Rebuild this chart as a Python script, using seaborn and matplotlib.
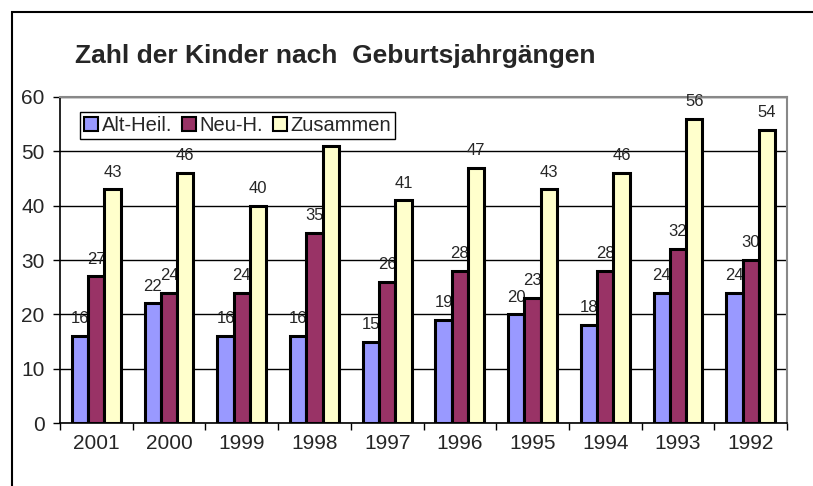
import matplotlib
matplotlib.use("Agg")
import matplotlib.pyplot as plt
import pandas as pd
import seaborn as sns

# Data
years = ["2001", "2000", "1999", "1998", "1997", "1996", "1995", "1994", "1993", "1992"]
alt_heil = [16, 22, 16, 16, 15, 19, 20, 18, 24, 24]
neu_h = [27, 24, 24, 35, 26, 28, 23, 28, 32, 30]
zusammen = [43, 46, 40, 51, 41, 47, 43, 46, 56, 54]
series_names = ["Alt-Heil.", "Neu-H.", "Zusammen"]
colors = ["#9999FF", "#993366", "#FFFFCC"]

df = pd.DataFrame({
    "Jahr": years * 3,
    "Anzahl": alt_heil + neu_h + zusammen,
    "Serie": [s for s in series_names for _ in years],
})

sns.set_style("white")
plt.rcParams["font.family"] = ["Liberation Sans", "DejaVu Sans"]

fig = plt.figure(figsize=(8.13, 4.86), dpi=100)
ax = fig.add_axes([60 / 813, 63 / 486, 727 / 813, 326 / 486])

sns.barplot(data=df, x="Jahr", y="Anzahl", hue="Serie", order=years,
            hue_order=series_names, palette=colors, width=0.67,
            edgecolor="black", linewidth=2.2, saturation=1, ax=ax, legend=True)

# bars of later series cover labels of earlier ones, as in the original
for i, cont in enumerate(ax.containers):
    for bar in cont:
        bar.set_zorder(3 + 2 * i)
    ax.bar_label(cont, padding=7, fontsize=12, zorder=4 + 2 * i)

ax.set_xlim(-0.5, len(years) - 0.5)
ax.set_ylim(0, 60)
ax.set_yticks(range(0, 61, 10))
ax.yaxis.grid(True, color="black", linewidth=1)
ax.set_axisbelow(True)
ax.set_xlabel("")
ax.set_ylabel("")

ax.tick_params(axis="y", which="major", direction="out", length=5, width=1,
               color="black", labelsize=15, pad=6, left=True)
ax.tick_params(axis="x", which="major", length=0, labelsize=15, pad=8)
ax.set_xticks([i - 0.5 for i in range(len(years) + 1)], minor=True)
ax.tick_params(axis="x", which="minor", direction="out", length=5, width=1,
               color="black", bottom=True)

for side in ["left", "bottom"]:
    ax.spines[side].set_color("black")
    ax.spines[side].set_linewidth(1.2)
for side in ["top", "right"]:
    ax.spines[side].set_color("#888888")
    ax.spines[side].set_linewidth(1.5)

leg = ax.legend(loc="upper left", bbox_to_anchor=(80 / 813, 1 - 112 / 486),
                bbox_transform=fig.transFigure, ncol=3, fontsize=14.5,
                frameon=True, fancybox=False, edgecolor="black", framealpha=1,
                handlelength=0.7, handleheight=0.7, handletextpad=0.2,
                columnspacing=0.45, borderpad=0.2, borderaxespad=0)
leg.get_frame().set_linewidth(1)
leg.set_zorder(20)
for h in leg.legend_handles:
    h.set_edgecolor("black")
    h.set_linewidth(1.5)

fig.text(75 / 813, 1 - 56 / 486, "Zahl der Kinder nach  Geburtsjahrgängen",
         fontsize=19, fontweight="bold", va="center", ha="left")

# outer chart frame (left and top edges visible)
fig.add_artist(plt.Rectangle((12 / 813, -0.1), 1.2, 1.1 - 12 / 486,
                             transform=fig.transFigure, fill=False,
                             edgecolor="black", linewidth=1.5))

fig.savefig("out.png", dpi=100)
